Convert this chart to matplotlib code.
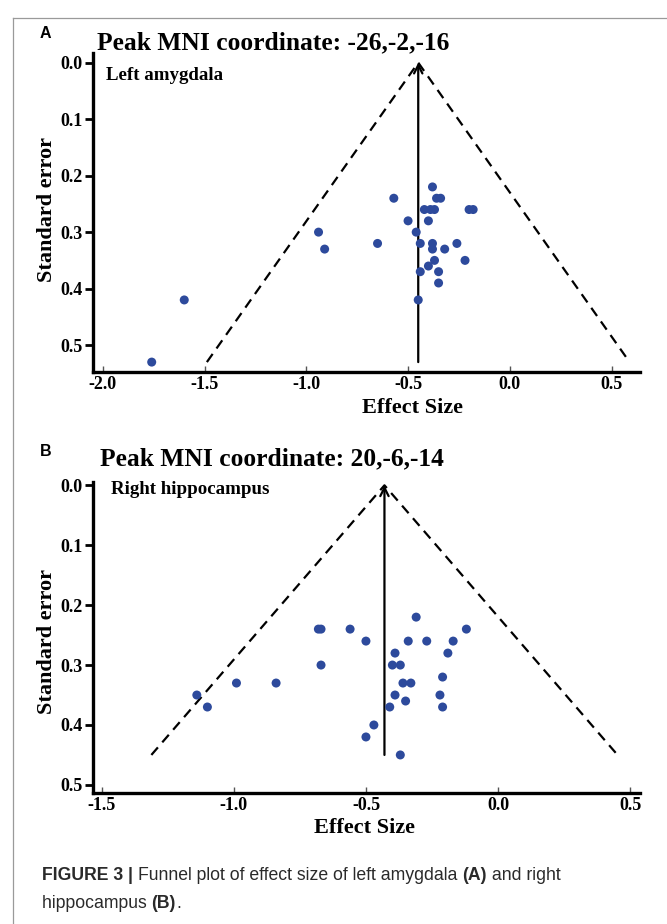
import matplotlib
matplotlib.use("Agg")
import matplotlib.pyplot as plt
from matplotlib.lines import Line2D

# ---- data -----------------------------------------------------------------
# Panel A: left amygdala
a_effect = [-1.76, -1.60, -0.94, -0.91, -0.65, -0.57, -0.50, -0.38, -0.36, -0.34,
            -0.42, -0.39, -0.37, -0.20, -0.18, -0.40, -0.46, -0.44, -0.38, -0.26,
            -0.38, -0.32, -0.37, -0.22, -0.40, -0.44, -0.35, -0.35, -0.45]
a_se = [0.53, 0.42, 0.30, 0.33, 0.32, 0.24, 0.28, 0.22, 0.24, 0.24,
        0.26, 0.26, 0.26, 0.26, 0.26, 0.28, 0.30, 0.32, 0.32, 0.32,
        0.33, 0.33, 0.35, 0.35, 0.36, 0.37, 0.37, 0.39, 0.42]
a_pooled = -0.45
a_se_max = 0.53

# Panel B: right hippocampus
b_effect = [-1.14, -1.10, -0.99, -0.84, -0.68, -0.67, -0.67, -0.56, -0.50, -0.47,
            -0.50, -0.41, -0.39, -0.39, -0.40, -0.37, -0.36, -0.33, -0.35, -0.37,
            -0.34, -0.31, -0.27, -0.17, -0.12, -0.19, -0.21, -0.22, -0.21]
b_se = [0.35, 0.37, 0.33, 0.33, 0.24, 0.24, 0.30, 0.24, 0.26, 0.40,
        0.42, 0.37, 0.35, 0.28, 0.30, 0.30, 0.33, 0.33, 0.36, 0.45,
        0.26, 0.22, 0.26, 0.26, 0.24, 0.28, 0.32, 0.35, 0.37]
b_pooled = -0.43
b_se_max = 0.45

z95 = 1.96

a_xticks = [-2.0, -1.5, -1.0, -0.5, 0.0, 0.5]
b_xticks = [-1.5, -1.0, -0.5, 0.0, 0.5]
yticks = [0.0, 0.1, 0.2, 0.3, 0.4, 0.5]

# ---- figure ---------------------------------------------------------------
W, H = 667, 924
fig = plt.figure(figsize=(W / 100, H / 100), dpi=100)
fig.patch.set_facecolor("white")

SERIF = "Liberation Serif"
SANS = "Liberation Sans"
DOT = "#2d4a9c"


def fx(x):
    return x / W


def fy(y):
    return 1 - y / H


def axes_box(left, top, right, bottom):
    return [fx(left), fy(bottom), fx(right) - fx(left), fy(top) - fy(bottom)]


def funnel(ax, eff, se, pooled, se_max, xlim, ylim, xticks):
    ax.scatter(eff, se, s=42, color=DOT, edgecolors="none", zorder=3)
    ax.plot([pooled - z95 * se_max, pooled, pooled + z95 * se_max],
            [se_max, 0.0, se_max], color="black", lw=1.6,
            ls=(0, (4.5, 3.0)), zorder=2)
    ax.annotate("", xy=(pooled, 0.0), xytext=(pooled, se_max),
                arrowprops=dict(arrowstyle="->", lw=1.6, color="black",
                                shrinkA=0, shrinkB=0, mutation_scale=15),
                zorder=2)
    ax.set_xlim(*xlim)
    ax.set_ylim(*ylim)
    for side in ("top", "right"):
        ax.spines[side].set_visible(False)
    for side in ("left", "bottom"):
        ax.spines[side].set_linewidth(2.4)
    ax.set_xticks(xticks)
    ax.set_xticklabels([f"{t:.1f}" for t in xticks])
    ax.set_yticks(yticks)
    ax.set_yticklabels([f"{t:.1f}" for t in yticks])
    ax.tick_params(axis="x", direction="in", length=4, width=1.0, pad=3,
                   color="#555555")
    ax.tick_params(axis="y", direction="out", length=6, width=2.0, pad=1)
    for lab in ax.get_xticklabels() + ax.get_yticklabels():
        lab.set_fontfamily(SERIF)
        lab.set_fontweight("bold")
        lab.set_fontsize(13)
    ax.set_facecolor("none")


# Panel A
axA = fig.add_axes(axes_box(92.7, 53.3, 640, 371.7))
funnel(axA, a_effect, a_se, a_pooled, a_se_max,
       (-2.05, 0.64), (0.547, -0.0165), a_xticks)

# Panel B
axB = fig.add_axes(axes_box(92.7, 481.7, 640, 793.3))
funnel(axB, b_effect, b_se, b_pooled, b_se_max,
       (-1.534, 0.537), (0.514, -0.006), b_xticks)

# Panel letters, titles and region names
title_kw = dict(fontfamily=SERIF, fontweight="bold", va="center", ha="left")
fig.text(fx(40), fy(34), "A", fontfamily=SANS, fontweight="bold",
         fontsize=11.5, va="center", ha="left")
fig.text(fx(40), fy(452), "B", fontfamily=SANS, fontweight="bold",
         fontsize=11.5, va="center", ha="left")
fig.text(fx(97), fy(43), "Peak MNI coordinate: -26,-2,-16", fontsize=18.4, **title_kw)
fig.text(fx(100), fy(459), "Peak MNI coordinate: 20,-6,-14", fontsize=18.4, **title_kw)
fig.text(fx(106), fy(75), "Left amygdala", fontsize=13.6, **title_kw)
fig.text(fx(111), fy(489), "Right hippocampus", fontsize=13.6, **title_kw)

# Axis labels
lab_kw = dict(fontfamily=SERIF, fontweight="bold", fontsize=16,
              va="center", ha="center")
fig.text(fx(413), fy(408), "Effect Size", **lab_kw)
fig.text(fx(365), fy(828), "Effect Size", **lab_kw)
fig.text(fx(47), fy(210), "Standard error", rotation=90, **lab_kw)
fig.text(fx(47), fy(642), "Standard error", rotation=90, **lab_kw)

# Page frame
fig.add_artist(Line2D([fx(13), fx(13)], [fy(18), 0], color="#9a9a9a", lw=0.9))
fig.add_artist(Line2D([fx(13), 1], [fy(18), fy(18)], color="#9a9a9a", lw=0.9))

# Caption with mixed weights
fig.canvas.draw()
renderer = fig.canvas.get_renderer()
cap_color = "#2a2a2a"


def caption_line(x0, y0, parts, size=12.7):
    x = x0
    for txt, weight in parts:
        t = fig.text(fx(x), fy(y0), txt, fontfamily=SANS, fontweight=weight,
                     fontsize=size, color=cap_color, va="center", ha="left")
        x += t.get_window_extent(renderer).width


caption_line(42, 875, [("FIGURE 3 | ", "bold"),
                       ("Funnel plot of effect size of left amygdala ", "normal"),
                       ("(A)", "bold"), (" and right", "normal")])
caption_line(42, 904, [("hippocampus ", "normal"), ("(B)", "bold"), (".", "normal")])

fig.savefig("out.png", dpi=100, facecolor="white")
